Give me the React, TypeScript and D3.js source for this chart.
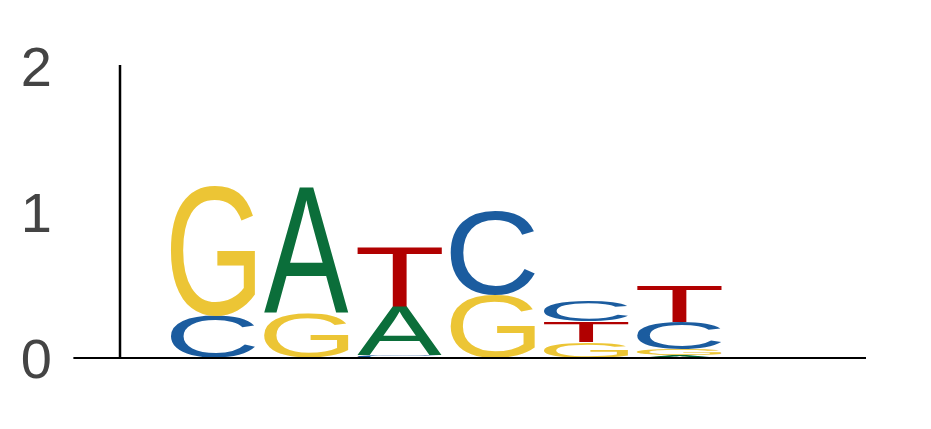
import * as d3 from 'd3';
import { useEffect, useMemo } from 'react';

// ── Data: information content (bits) per letter at each position ─────────
const positions = [1, 2, 3, 4, 5, 6];
const letters = ['A', 'C', 'G', 'T'];
const bitsA = [0.0, 0.86, 0.33, 0.0, 0.0, 0.02];
const bitsC = [0.29, 0.0, 0.02, 0.58, 0.145, 0.185];
const bitsG = [0.895, 0.31, 0.0, 0.43, 0.11, 0.04];
const bitsT = [0.0, 0.0, 0.41, 0.0, 0.14, 0.25];
const yTicks = [0, 1, 2];

const colors: Record<string, string> = {
  A: '#0b6e3a',
  C: '#1b5c9f',
  G: '#ecc535',
  T: '#b10000',
};

const W = 931;
const H = 429;
const FONT = '"Liberation Sans", Arial, Helvetica, sans-serif';
const REF = 100; // reference font size for measuring glyphs

interface Ink { left: number; right: number; ascent: number; descent: number }

// ink bounds of each letter, so a glyph can be stretched to fill its box
function measureGlyphs(): Record<string, Ink> {
  const ctx = document.createElement('canvas').getContext('2d')!;
  ctx.font = `${REF}px ${FONT}`;
  const out: Record<string, Ink> = {};
  letters.forEach(l => {
    const m = ctx.measureText(l);
    out[l] = {
      left: m.actualBoundingBoxLeft,
      right: m.actualBoundingBoxRight,
      ascent: m.actualBoundingBoxAscent,
      descent: m.actualBoundingBoxDescent,
    };
  });
  return out;
}

export default function App() {
  useEffect(() => {
    document.body.style.margin = '0';
  }, []);

  const ink = useMemo(measureGlyphs, []);

  const x = d3.scaleLinear().domain([0, 8]).range([120, 866]);
  const y = d3.scaleLinear().domain([0, 2]).range([358, 66]);
  const pitch = x(1) - x(0);
  const glyphW = pitch * 0.91;

  const table: Record<string, number[]> = { A: bitsA, C: bitsC, G: bitsG, T: bitsT };

  // stack: smallest at the bottom, largest on top
  const glyphs: { key: string; l: string; x0: number; y0: number; y1: number }[] = [];
  positions.forEach((p, i) => {
    const col = letters
      .map(l => ({ l, v: table[l][i] }))
      .filter(d => d.v > 0)
      .sort((a, b) => a.v - b.v);
    let acc = 0;
    col.forEach(d => {
      glyphs.push({ key: `${p}-${d.l}`, l: d.l, x0: x(p) - glyphW / 2, y0: y(acc + d.v), y1: y(acc) });
      acc += d.v;
    });
  });

  return (
    <svg width={W} height={H} style={{ display: 'block' }}>
      {/* y tick labels */}
      {yTicks.map(t => (
        <text
          key={t}
          x={52}
          y={y(t)}
          textAnchor="end"
          dominantBaseline="central"
          fontFamily={FONT}
          fontSize={56}
          fill="#444444"
        >
          {t}
        </text>
      ))}

      {/* glyphs */}
      {glyphs.map(g => {
        const m = ink[g.l];
        const iw = m.left + m.right;
        const ih = m.ascent + m.descent;
        const sx = glyphW / iw;
        const sy = (g.y1 - g.y0) / ih;
        return (
          <text
            key={g.key}
            transform={`translate(${g.x0},${g.y0}) scale(${sx},${sy}) translate(${m.left},${m.ascent})`}
            fontFamily={FONT}
            fontSize={REF}
            fill={colors[g.l]}
          >
            {g.l}
          </text>
        );
      })}

      {/* axes */}
      <line x1={x(0)} x2={x(0)} y1={y(2) - 1} y2={y(0)} stroke="#000" strokeWidth={2.5} />
      <line x1={x(-0.5)} x2={x(8)} y1={y(0)} y2={y(0)} stroke="#000" strokeWidth={1.8} />
    </svg>
  );
}
